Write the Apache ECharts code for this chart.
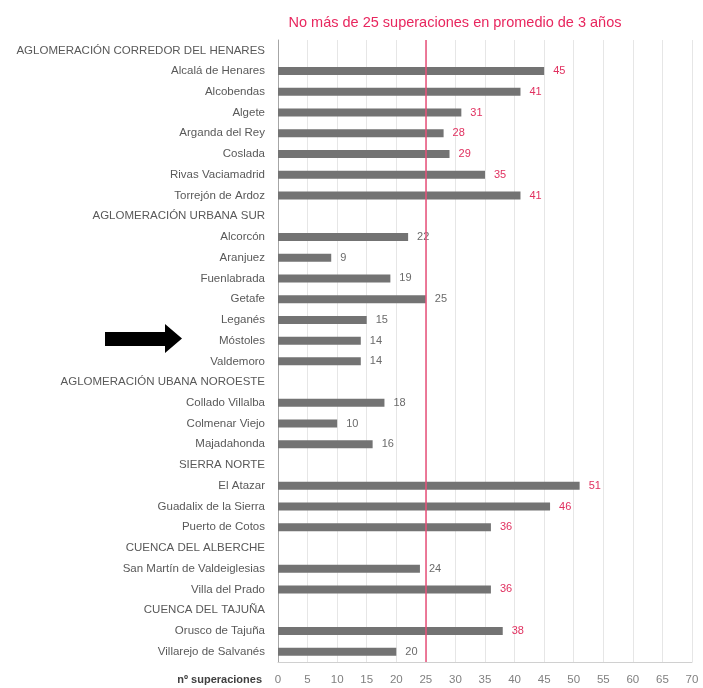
<!DOCTYPE html>
<html>
<head>
<meta charset="utf-8">
<script src="https://cdn.jsdelivr.net/npm/echarts@6/dist/echarts.min.js"></script>
<style>html,body{margin:0;padding:0;background:#fff}#c{width:703px;height:688px}</style>
</head>
<body>
<div id="c"></div>
<script>
var categories = [
  'AGLOMERACIÓN CORREDOR DEL HENARES',
  'Alcalá de Henares','Alcobendas','Algete','Arganda del Rey','Coslada','Rivas Vaciamadrid','Torrejón de Ardoz',
  'AGLOMERACIÓN URBANA SUR',
  'Alcorcón','Aranjuez','Fuenlabrada','Getafe','Leganés','Móstoles','Valdemoro',
  'AGLOMERACIÓN UBANA NOROESTE',
  'Collado Villalba','Colmenar Viejo','Majadahonda',
  'SIERRA NORTE',
  'El Atazar','Guadalix de la Sierra','Puerto de Cotos',
  'CUENCA DEL ALBERCHE',
  'San Martín de Valdeiglesias','Villa del Prado',
  'CUENCA DEL TAJUÑA',
  'Orusco de Tajuña','Villarejo de Salvanés'
];
var values = [
  null,
  45,41,31,28,29,35,41,
  null,
  22,9,19,25,15,14,14,
  null,
  18,10,16,
  null,
  51,46,36,
  null,
  24,36,
  null,
  38,20
];
var limitValue = 25;
var xTicks = [0,5,10,15,20,25,30,35,40,45,50,55,60,65,70];

var chart = echarts.init(document.getElementById('c'));
var FONT = 'Liberation Sans';
chart.setOption({
  animation: false,
  backgroundColor: '#ffffff',
  textStyle: { fontFamily: FONT },
  title: {
    text: 'No más de 25 superaciones en promedio de 3 años',
    left: 450, top: 10, textAlign: 'center',
    textStyle: { color: '#e8265e', fontSize: 14.5, fontWeight: 'normal', fontFamily: FONT }
  },
  grid: { left: 278, right: 11, top: 40, bottom: 26, containLabel: false },
  xAxis: {
    type: 'value', min: xTicks[0], max: xTicks[xTicks.length-1], interval: 5,
    name: 'nº superaciones', nameLocation: 'start', nameGap: 16,
    nameTextStyle: { color: '#404040', fontWeight: 'bold', fontSize: 11, verticalAlign: 'top', padding: [12, 0, 0, 0], fontFamily: FONT },
    axisLine: { show: true, lineStyle: { color: '#d0d0d0' } },
    axisTick: { show: false },
    axisLabel: { color: '#808080', fontSize: 11.5, margin: 12, fontFamily: FONT },
    splitLine: { show: true, lineStyle: { color: '#e6e6e6', width: 1 } }
  },
  yAxis: {
    type: 'category', data: categories, inverse: true,
    axisLine: { show: true, lineStyle: { color: '#a6a6a6' } },
    axisTick: { show: false },
    axisLabel: { color: '#595959', fontSize: 11.5, margin: 13, fontFamily: FONT }
  },
  series: [{
    type: 'bar',
    data: values.map(function (v) {
      return v == null ? null : {
        value: v,
        label: { color: v > limitValue ? '#e0305f' : '#6a6a6a' }
      };
    }),
    barWidth: 8,
    itemStyle: { color: '#737373' },
    label: { show: true, position: 'right', distance: 9, fontSize: 11, fontFamily: FONT },
    markLine: {
      silent: true, symbol: 'none',
      lineStyle: { color: '#e8507a', width: 1.5, type: 'solid' },
      label: { show: false },
      data: [{ xAxis: limitValue }]
    }
  }],
  graphic: [{
    type: 'polygon',
    shape: { points: [[105,332],[165,332],[165,324],[182,338.5],[165,353],[165,346],[105,346]] },
    style: { fill: '#000000' }
  }]
});
</script>
</body>
</html>
